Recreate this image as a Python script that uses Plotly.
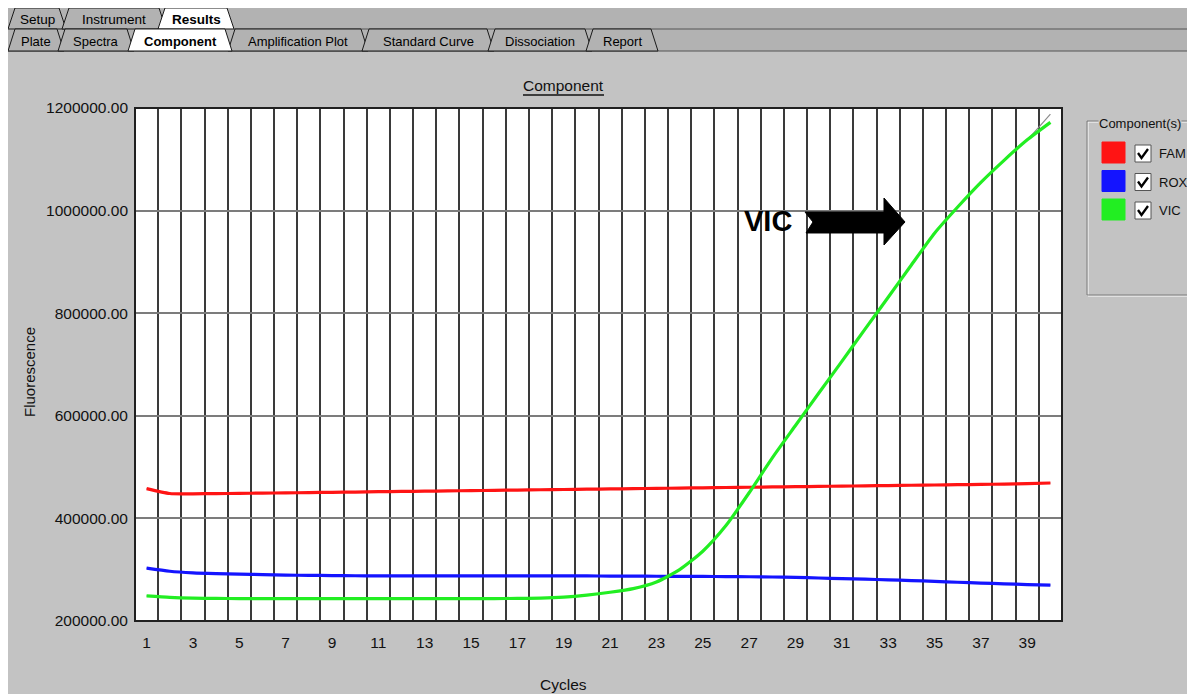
import plotly.graph_objects as go

# ---------------- data ----------------
cycles = list(range(1, 41))

fam = [458000, 448500, 448000, 448300, 448800, 449300, 449800, 450300, 450900, 451400,
       452000, 452500, 453000, 453600, 454100, 454700, 455200, 455800, 456300, 456900,
       457400, 458000, 458500, 459100, 459600, 460200, 460700, 461300, 461800, 462400,
       462900, 463500, 464000, 464600, 465100, 465700, 466300, 466900, 467600, 469000]

rox = [303000, 297000, 294000, 292500, 291500, 290500, 289500, 289000, 288500, 288200,
       288000, 288000, 288000, 288000, 288000, 288000, 288000, 288000, 287900, 287800,
       287600, 287400, 287200, 287000, 286800, 286600, 286300, 285800, 285000, 283800,
       282700, 281500, 280200, 278800, 277300, 275500, 274000, 272500, 271000, 269800]

vic = [249000, 246000, 244500, 244000, 243800, 243600, 243500, 243500, 243500, 243500,
       243500, 243500, 243500, 243500, 243600, 243800, 244000, 244500, 246500, 250500,
       256000, 263000, 276000, 300000, 336000, 386000, 450000, 518000, 581000, 644000,
       706000, 769000, 831000, 894000, 956000, 1007000, 1055000, 1098000, 1138000, 1172000]

vic_fit = vic[:-1] + [1188000]

series_names = ["FAM", "ROX", "VIC"]
series_values = [fam, rox, vic]
fit_values = [fam, rox, vic_fit]
series_colors = ["#ff1414", "#1414ff", "#22ee22"]

y_ticks = [200000, 400000, 600000, 800000, 1000000, 1200000]
x_ticks = list(range(1, 40, 2))

row1_tabs = ["Setup", "Instrument", "Results"]
row2_tabs = ["Plate", "Spectra", "Component", "Amplification Plot",
             "Standard Curve", "Dissociation", "Report"]

chart_title = "Component"
x_title = "Cycles"
y_title = "Fluorescence"
legend_title = "Component(s)"
callout_text = "VIC"

# ---------------- geometry (screen pixels) ----------------
W, H = 1195, 694
OX, OY = 8, 8                      # page body offset
PL, PR, PT, PB = 135, 1062, 108, 621

def px(x):
    return (x - PL) / (PR - PL)

def py(y):
    return (PB - y) / (PB - PT)

def poly(points, close=True):
    s = "M " + " L ".join(f"{px(x):.5f},{py(y):.5f}" for x, y in points)
    return s + (" Z" if close else "")

FONT = "Liberation Sans, Arial, sans-serif"
BG = "#c3c3c3"
BAND = "#b2b2b2"

fig = go.Figure()

for name, vals, col in zip(series_names, fit_values, series_colors):
    fig.add_trace(go.Scatter(x=cycles, y=vals, mode="lines",
                             line=dict(color="#8c8c8c", width=1.2, shape="spline", smoothing=0.6),
                             showlegend=False, hoverinfo="skip"))
for name, vals, col in zip(series_names, series_values, series_colors):
    fig.add_trace(go.Scatter(x=cycles, y=vals, mode="lines", name=name,
                             line=dict(color=col, width=3.2, shape="spline", smoothing=0.6),
                             showlegend=False))

shapes = []
annotations = []

# tab band
shapes.append(dict(type="rect", xref="paper", yref="paper",
                   x0=px(8), x1=px(1200), y0=py(51), y1=py(8),
                   fillcolor=BAND, line=dict(width=0), layer="below"))

def add_tabs(labels, xs, y_top, y_bot, active, fsize):
    order = [i for i in range(len(labels)) if i != active] + [active]
    for i in order:
        x0, x1 = xs[i]
        fill = "white" if i == active else BAND
        shapes.append(dict(type="path", xref="paper", yref="paper",
                           path=poly([(x0, y_bot), (x0 + 7, y_top), (x1 - 7, y_top), (x1, y_bot)]),
                           fillcolor=fill, line=dict(color="#1a1a1a", width=1)))
    for i, lab in enumerate(labels):
        x0, x1 = xs[i]
        txt = f"<b>{lab}</b>" if i == active else lab
        annotations.append(dict(xref="paper", yref="paper", x=px((x0 + x1) / 2),
                                y=py((y_top + y_bot) / 2 + 1), text=txt, showarrow=False,
                                xanchor="center", yanchor="middle",
                                font=dict(family=FONT, size=fsize, color="black")))

row1_x = [(8, 66), (62, 166), (158, 234)]
row2_x = [(8, 64), (58, 134), (128, 232), (228, 368), (362, 494), (488, 592), (586, 658)]

# separator lines
shapes.append(dict(type="line", xref="paper", yref="paper",
                   x0=px(234), x1=px(1200), y0=py(29), y1=py(29),
                   line=dict(color="#555555", width=1)))
shapes.append(dict(type="line", xref="paper", yref="paper",
                   x0=px(8), x1=px(1200), y0=py(51), y1=py(51),
                   line=dict(color="#555555", width=1)))
add_tabs(row1_tabs, row1_x, 8, 29, 2, 13.5)
add_tabs(row2_tabs, row2_x, 29, 51, 2, 13)

# plot frame
shapes.append(dict(type="rect", xref="paper", yref="paper", x0=0, x1=1, y0=0, y1=1,
                   line=dict(color="#202020", width=2), layer="above"))

# title with underline
annotations.append(dict(xref="paper", yref="paper", x=px(563), y=py(85), text=chart_title,
                        showarrow=False, xanchor="center", yanchor="middle",
                        font=dict(family=FONT, size=15.5, color="#111111")))
shapes.append(dict(type="line", xref="paper", yref="paper", x0=px(523), x1=px(604),
                   y0=py(95), y1=py(95), line=dict(color="#111111", width=1.3)))

# axis titles
annotations.append(dict(xref="paper", yref="paper", x=px(29), y=py(372), text=y_title,
                        showarrow=False, textangle=-90, xanchor="center", yanchor="middle",
                        font=dict(family=FONT, size=15, color="#111111")))
annotations.append(dict(xref="paper", yref="paper", x=px(563), y=py(684), text=x_title,
                        showarrow=False, xanchor="center", yanchor="middle",
                        font=dict(family=FONT, size=15.5, color="#111111")))

# VIC callout and arrow
annotations.append(dict(xref="paper", yref="paper", x=px(768), y=py(221), text=f"<b>{callout_text}</b>",
                        showarrow=False, xanchor="center", yanchor="middle",
                        font=dict(family=FONT, size=29, color="black")))
shapes.append(dict(type="path", xref="paper", yref="paper",
                   path=poly([(805, 212), (884, 212), (884, 198), (905, 222), (884, 245),
                              (884, 233), (806, 233), (813, 222)]),
                   fillcolor="black", line=dict(color="black", width=1)))

# legend box (etched)
shapes.append(dict(type="rect", xref="paper", yref="paper", x0=px(1088), x1=px(1210),
                   y0=py(296), y1=py(122), line=dict(color="white", width=1)))
shapes.append(dict(type="rect", xref="paper", yref="paper", x0=px(1087), x1=px(1210),
                   y0=py(295), y1=py(121), line=dict(color="#7a7a7a", width=1)))
annotations.append(dict(xref="paper", yref="paper", x=px(1140), y=py(123), text=legend_title,
                        showarrow=False, xanchor="center", yanchor="middle", bgcolor=BG,
                        borderpad=0,
                        font=dict(family=FONT, size=13, color="#111111")))
for i, (name, col) in enumerate(zip(series_names, series_colors)):
    y0 = 142 + i * 28.5
    shapes.append(dict(type="rect", xref="paper", yref="paper", x0=px(1102), x1=px(1125),
                       y0=py(y0 + 21), y1=py(y0), fillcolor=col,
                       line=dict(color=col, width=1)))
    shapes.append(dict(type="rect", xref="paper", yref="paper", x0=px(1135), x1=px(1151),
                       y0=py(y0 + 20), y1=py(y0 + 3), fillcolor="white",
                       line=dict(color="#555555", width=1)))
    shapes.append(dict(type="path", xref="paper", yref="paper",
                       path=poly([(1138, y0 + 11), (1141.5, y0 + 16), (1148, y0 + 7)], close=False),
                       line=dict(color="black", width=2.3)))
    annotations.append(dict(xref="paper", yref="paper", x=px(1157), y=py(y0 + 11.5), text=name,
                            showarrow=False, xanchor="left", yanchor="middle",
                            font=dict(family=FONT, size=13, color="#111111")))

fig.update_layout(
    width=W, height=H,
    margin=dict(l=PL - OX, r=W - (PR - OX), t=PT - OY, b=H - (PB - OY), pad=0),
    paper_bgcolor=BG, plot_bgcolor="white",
    shapes=shapes, annotations=annotations,
    showlegend=False,
    font=dict(family=FONT, color="#111111"),
    xaxis=dict(range=[0.5, 40.5], tickmode="array", tickvals=x_ticks,
               ticktext=[str(v) for v in x_ticks], showgrid=False, zeroline=False,
               ticks="", ticklabelstandoff=10, showline=False,
               tickfont=dict(family=FONT, size=15.5, color="#111111"),
               minor=dict(tickmode="linear", tick0=0.5, dtick=1, showgrid=True,
                          gridcolor="#3a3a3a", gridwidth=2, ticks="")),
    yaxis=dict(range=[200000, 1200000], tickmode="array", tickvals=y_ticks,
               tickformat=".2f", showgrid=True, gridcolor="#7c7c7c", gridwidth=1.6,
               zeroline=False, ticks="", ticklabelstandoff=6, showline=False,
               tickfont=dict(family=FONT, size=15.5, color="#111111")),
)

fig.write_html("out.html")
